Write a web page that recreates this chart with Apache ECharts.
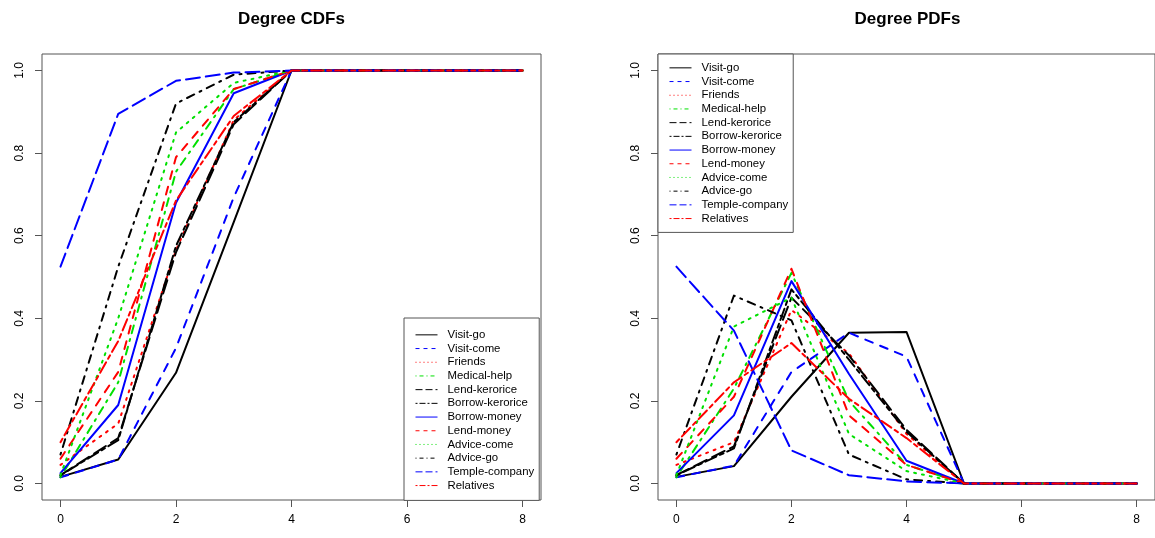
<!DOCTYPE html>
<html>
<head>
<meta charset="utf-8">
<script src="https://cdn.jsdelivr.net/npm/echarts@6/dist/echarts.min.js"></script>
<style>
  html, body { margin: 0; padding: 0; background: #ffffff; }
  #chart { width: 1155px; height: 538px; }
</style>
</head>
<body>
<div id="chart"></div>
<script>
// Node degree (x axis) and tick marks
const degrees = [0, 1, 2, 3, 4, 5, 6, 7, 8];
const xTicks = [0, 2, 4, 6, 8];
const yTicks = [0, 0.2, 0.4, 0.6, 0.8, 1.0];

const networkNames = [
  'Visit-go', 'Visit-come', 'Friends', 'Medical-help', 'Lend-kerorice', 'Borrow-kerorice',
  'Borrow-money', 'Lend-money', 'Advice-come', 'Advice-go', 'Temple-company', 'Relatives'
];

// Cumulative degree distributions
const visitGoCdf       = [0.016, 0.058, 0.268, 0.633, 1, 1, 1, 1, 1];
const visitComeCdf     = [0.015, 0.058, 0.328, 0.693, 1, 1, 1, 1, 1];
const friendsCdf       = [0.045, 0.145, 0.565, 0.880, 1, 1, 1, 1, 1];
const medicalHelpCdf   = [0.015, 0.245, 0.755, 0.955, 1, 1, 1, 1, 1];
const lendKeroriceCdf  = [0.020, 0.110, 0.560, 0.870, 1, 1, 1, 1, 1];
const borrowKeroriceCdf= [0.020, 0.105, 0.575, 0.875, 1, 1, 1, 1, 1];
const borrowMoneyCdf   = [0.025, 0.190, 0.680, 0.945, 1, 1, 1, 1, 1];
const lendMoneyCdf     = [0.060, 0.270, 0.790, 0.955, 1, 1, 1, 1, 1];
const adviceComeCdf    = [0.020, 0.400, 0.850, 0.970, 1, 1, 1, 1, 1];
const adviceGoCdf      = [0.070, 0.525, 0.920, 0.990, 1, 1, 1, 1, 1];
const templeCompanyCdf = [0.525, 0.895, 0.975, 0.995, 1, 1, 1, 1, 1];
const relativesCdf     = [0.100, 0.345, 0.685, 0.890, 1, 1, 1, 1, 1];

// Degree probability distributions
const visitGoPdf       = [0.016, 0.042, 0.210, 0.365, 0.367, 0, 0, 0, 0];
const visitComePdf     = [0.015, 0.043, 0.270, 0.365, 0.307, 0, 0, 0, 0];
const friendsPdf       = [0.045, 0.100, 0.420, 0.315, 0.120, 0, 0, 0, 0];
const medicalHelpPdf   = [0.015, 0.230, 0.510, 0.200, 0.045, 0, 0, 0, 0];
const lendKeroricePdf  = [0.020, 0.090, 0.450, 0.310, 0.130, 0, 0, 0, 0];
const borrowKeroricePdf= [0.020, 0.085, 0.470, 0.300, 0.125, 0, 0, 0, 0];
const borrowMoneyPdf   = [0.025, 0.165, 0.490, 0.265, 0.055, 0, 0, 0, 0];
const lendMoneyPdf     = [0.060, 0.210, 0.520, 0.165, 0.045, 0, 0, 0, 0];
const adviceComePdf    = [0.020, 0.380, 0.450, 0.120, 0.030, 0, 0, 0, 0];
const adviceGoPdf      = [0.070, 0.455, 0.395, 0.070, 0.010, 0, 0, 0, 0];
const templeCompanyPdf = [0.525, 0.370, 0.080, 0.020, 0.005, 0, 0, 0, 0];
const relativesPdf     = [0.100, 0.245, 0.340, 0.205, 0.110, 0, 0, 0, 0];

const cdfSeries = [visitGoCdf, visitComeCdf, friendsCdf, medicalHelpCdf, lendKeroriceCdf, borrowKeroriceCdf,
  borrowMoneyCdf, lendMoneyCdf, adviceComeCdf, adviceGoCdf, templeCompanyCdf, relativesCdf];
const pdfSeries = [visitGoPdf, visitComePdf, friendsPdf, medicalHelpPdf, lendKeroricePdf, borrowKeroricePdf,
  borrowMoneyPdf, lendMoneyPdf, adviceComePdf, adviceGoPdf, templeCompanyPdf, relativesPdf];

// Per-network colour and line type
const K = '#000000', B = '#0000ff', R = '#ff0000', G = '#00e000';
const lineColors = [K, B, R, G, K, K, B, R, G, K, B, R];
const lineTypes = ['solid', 'dashed', 'dotted', 'dotdash', 'longdash', 'twodash',
  'solid', 'dashed', 'dotted', 'dotdash', 'longdash', 'twodash'];
const dashUnits = {
  dashed: [4, 4], dotted: [1, 3], dotdash: [1, 3, 4, 3], longdash: [7, 3], twodash: [2, 2, 6, 2]
};
function dashFor(type, lwd) {
  return type === 'solid' ? 'solid' : dashUnits[type].map(u => u * lwd);
}

const FONT = 'Liberation Sans, Arial, Helvetica, sans-serif';
const GRID_TOP = 54, GRID_H = 446, GRID_W = 499;
const grids = [
  { left: 42, top: GRID_TOP, width: GRID_W, height: GRID_H },
  { left: 658, top: GRID_TOP, width: GRID_W, height: GRID_H }
];

function makeXAxis(gi) {
  return {
    type: 'value', gridIndex: gi, min: -0.32, max: 8.32, position: 'bottom',
    axisLine: { show: false, onZero: false },
    splitLine: { show: false },
    axisTick: { show: true, inside: false, length: 7, customValues: xTicks,
      lineStyle: { color: '#555', width: 1 } },
    axisLabel: { customValues: xTicks, margin: 14, color: '#000', fontFamily: FONT, fontSize: 12,
      formatter: v => String(v) }
  };
}
function makeYAxis(gi) {
  return {
    type: 'value', gridIndex: gi, min: -0.04, max: 1.04, position: 'left',
    axisLine: { show: false, onZero: false },
    splitLine: { show: false },
    axisTick: { show: true, inside: false, length: 7, customValues: yTicks,
      lineStyle: { color: '#555', width: 1 } },
    axisLabel: { customValues: yTicks, rotate: 90, margin: 16, color: '#000', fontFamily: FONT, fontSize: 12,
      formatter: v => v.toFixed(1) }
  };
}

const series = [];
[cdfSeries, pdfSeries].forEach((group, gi) => {
  group.forEach((vals, i) => {
    series.push({
      type: 'line', name: networkNames[i], xAxisIndex: gi, yAxisIndex: gi,
      data: degrees.map((d, k) => [d, vals[k]]),
      symbol: 'none', showSymbol: false, silent: true, animation: false,
      itemStyle: { color: lineColors[i] },
      lineStyle: { color: lineColors[i], width: 2, type: dashFor(lineTypes[i], 2), cap: 'round', join: 'round' }
    });
  });
});

function makeLegend(left, top, padding) {
  return {
    orient: 'vertical', left: left, top: top, padding: padding,
    itemWidth: 22, itemHeight: 13.7, itemGap: 0,
    selectedMode: false,
    backgroundColor: '#ffffff', borderColor: '#555', borderWidth: 1, borderRadius: 0,
    textStyle: { fontFamily: FONT, fontSize: 11.4, color: '#000', lineHeight: 13.7, padding: [0, 0, 0, 5] },
    data: networkNames.map((n, i) => ({
      name: n,
      itemStyle: { color: lineColors[i], opacity: 0, borderWidth: 0 },
      lineStyle: { color: lineColors[i], width: 1, type: dashFor(lineTypes[i], 1), cap: 'butt' }
    }))
  };
}

const option = {
  backgroundColor: '#ffffff',
  animation: false,
  title: [
    { text: 'Degree CDFs', left: 291.5, top: 11, textAlign: 'center', padding: 0,
      textStyle: { fontFamily: FONT, fontSize: 17, fontWeight: 'bold', color: '#000' } },
    { text: 'Degree PDFs', left: 907.5, top: 11, textAlign: 'center', padding: 0,
      textStyle: { fontFamily: FONT, fontSize: 17, fontWeight: 'bold', color: '#000' } }
  ],
  grid: grids.map(g => Object.assign({ show: true, borderColor: '#555', borderWidth: 1,
    backgroundColor: 'transparent', containLabel: false }, g)),
  xAxis: [makeXAxis(0), makeXAxis(1)],
  yAxis: [makeYAxis(0), makeYAxis(1)],
  legend: [
    makeLegend(404, 318, [10, 5, 8, 11]),
    makeLegend(658, 54, [7, 5, 7, 11])
  ],
  series: series
};

const chart = echarts.init(document.getElementById('chart'), null, { renderer: 'canvas' });
chart.setOption(option);
</script>
</body>
</html>
